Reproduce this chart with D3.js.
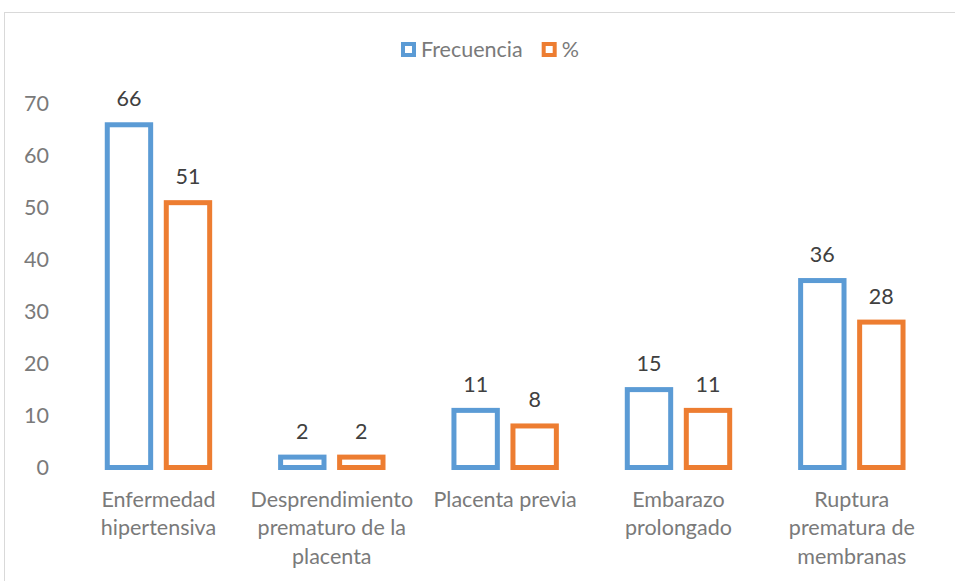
<!DOCTYPE html>
<html>
<head>
<meta charset="utf-8">
<script src="https://cdn.jsdelivr.net/npm/d3@7"></script>
<style>
  html, body { margin: 0; padding: 0; background: #fff; }
  svg { display: block; font-family: Lato, "Open Sans", sans-serif; }
</style>
</head>
<body>
<svg id="chart" width="955" height="581"></svg>
<script>
// Complicaciones obstétricas: frecuencia y porcentaje
const categories = [
  "Enfermedad hipertensiva",
  "Desprendimiento prematuro de la placenta",
  "Placenta previa",
  "Embarazo prolongado",
  "Ruptura prematura de membranas"
];
const frecuencia = [66, 2, 11, 15, 36];
const porcentaje = [51, 2, 8, 11, 28];
const seriesNames = ["Frecuencia", "%"];
const yTicks = [0, 10, 20, 30, 40, 50, 60, 70];

const colors = { "Frecuencia": "#5b9bd5", "%": "#ed7d31" };
const seriesValues = { "Frecuencia": frecuencia, "%": porcentaje };

const svg = d3.select("#chart");
const W = 955, H = 581;
const strokeW = 5;
const fontSize = 21.5;

// chart frame (runs past the right and bottom edges)
svg.append("rect")
  .attr("x", 4.5).attr("y", 12.5)
  .attr("width", W + 20).attr("height", H + 20)
  .attr("fill", "none").attr("stroke", "#d9d9d9").attr("stroke-width", 1);

const x0 = d3.scaleBand().domain(categories).range([71.8, 938.5]).paddingInner(0).paddingOuter(0);
const x1 = d3.scaleBand().domain(seriesNames).range([-53.7, 53.7]).paddingInner(0.18).paddingOuter(0);
const y = d3.scaleLinear().domain([0, 70]).range([467.5, 104]);

// y axis labels only
const yAxis = svg.append("g")
  .attr("transform", "translate(57,0)")
  .call(d3.axisLeft(y).tickValues(yTicks).tickSize(0).tickPadding(8).tickFormat(d3.format("d")));
yAxis.select(".domain").remove();
yAxis.selectAll("text")
  .attr("fill", "#7a7a7a")
  .style("font-size", fontSize + "px")
  .style("font-family", "Lato, 'Open Sans', sans-serif");

// bars
const rows = categories.map((c, i) => ({
  cat: c,
  items: seriesNames.map(s => ({ cat: c, series: s, value: seriesValues[s][i] }))
}));

const groups = svg.append("g").selectAll("g")
  .data(rows).join("g")
  .attr("transform", d => `translate(${x0(d.cat) + x0.bandwidth() / 2},0)`);

groups.selectAll("rect")
  .data(d => d.items).join("rect")
  .attr("x", d => x1(d.series) + strokeW / 2)
  .attr("width", x1.bandwidth() - strokeW)
  .attr("y", d => y(d.value))
  .attr("height", d => y(0) - y(d.value))
  .attr("fill", "#fff")
  .attr("stroke", d => colors[d.series])
  .attr("stroke-width", strokeW);

// value labels
groups.selectAll("text.val")
  .data(d => d.items).join("text")
  .attr("class", "val")
  .attr("x", d => x1(d.series) + x1.bandwidth() / 2)
  .attr("y", d => y(d.value) - strokeW / 2 - 16)
  .attr("text-anchor", "middle")
  .attr("fill", "#404040")
  .style("font-size", fontSize + "px")
  .text(d => d.value);

// category labels, wrapped to the band width
const maxW = x0.step() - 4;
const catLabels = svg.append("g").selectAll("text")
  .data(categories).join("text")
  .attr("x", d => x0(d) + x0.bandwidth() / 2)
  .attr("y", 507)
  .attr("text-anchor", "middle")
  .attr("fill", "#7a7a7a")
  .style("font-size", fontSize + "px");

catLabels.each(function(d) {
  const text = d3.select(this);
  const words = d.split(" ");
  const cx = +text.attr("x");
  let line = [];
  let tspan = text.append("tspan").attr("x", cx).attr("dy", 0);
  words.forEach(w => {
    line.push(w);
    tspan.text(line.join(" "));
    if (tspan.node().getComputedTextLength() > maxW && line.length > 1) {
      line.pop();
      tspan.text(line.join(" "));
      line = [w];
      tspan = text.append("tspan").attr("x", cx).attr("dy", 28.4).text(w);
    }
  });
});

// legend
const legend = svg.append("g");
let lx = 401;
seriesNames.forEach(s => {
  legend.append("rect")
    .attr("x", lx + 2).attr("y", 44)
    .attr("width", 11).attr("height", 11)
    .attr("fill", "#fff")
    .attr("stroke", colors[s]).attr("stroke-width", 4);
  const t = legend.append("text")
    .attr("x", lx + 20).attr("y", 57)
    .attr("fill", "#7a7a7a")
    .style("font-size", fontSize + "px")
    .text(s);
  lx = lx + 20 + t.node().getComputedTextLength() + 19;
});
</script>
</body>
</html>
